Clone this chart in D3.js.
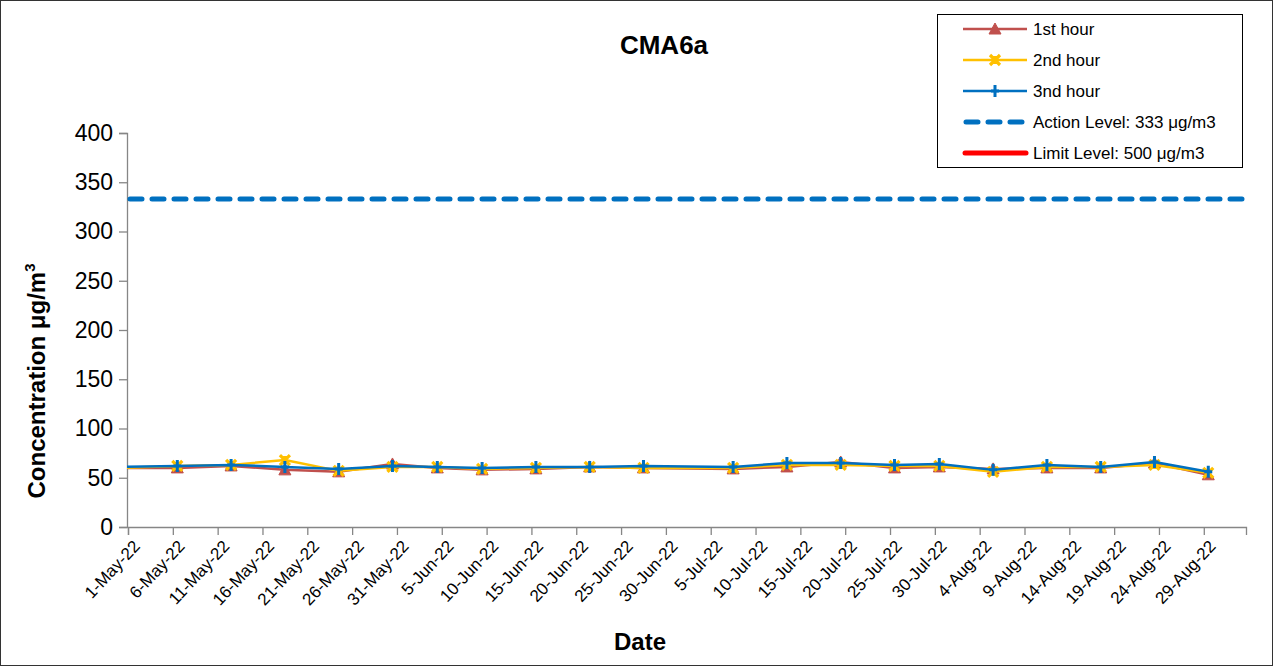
<!DOCTYPE html>
<html><head><meta charset="utf-8">
<script src="https://cdn.jsdelivr.net/npm/d3@7"></script>
<style>body{margin:0;background:#fff}svg{display:block;font-family:"Liberation Sans",Arial,sans-serif}</style>
</head><body><svg id="c" width="1273" height="666"></svg>
<script>
const dates = ["2022-04-30","2022-05-06","2022-05-12","2022-05-18","2022-05-24","2022-05-30","2022-06-04","2022-06-09","2022-06-15","2022-06-21","2022-06-27","2022-07-07","2022-07-13","2022-07-19","2022-07-25","2022-07-30","2022-08-05","2022-08-11","2022-08-17","2022-08-23","2022-08-29"];
const hour1 = [60,60,62,58,56,64,60,58,59,61,60,59,61,66,60,61,59,60,60,65,53];
const hour2 = [60,62,63,68,57,61,61,59,60,61,60,60,63,63,62,62,56,61,61,63,55];
const hour3 = [61,62,63,61,59,62,61,60,61,61,62,61,65,65,63,64,58,63,61,66,56];
const actionLevel = 333;
const limitLevel = 500;
const tickLabels = ["1-May-22","6-May-22","11-May-22","16-May-22","21-May-22","26-May-22","31-May-22","5-Jun-22","10-Jun-22","15-Jun-22","20-Jun-22","25-Jun-22","30-Jun-22","5-Jul-22","10-Jul-22","15-Jul-22","20-Jul-22","25-Jul-22","30-Jul-22","4-Aug-22","9-Aug-22","14-Aug-22","19-Aug-22","24-Aug-22","29-Aug-22"];
const yTicks = [0,50,100,150,200,250,300,350,400];
const seriesNames = ["1st hour","2nd hour","3nd hour","Action Level: 333 μg/m3","Limit Level: 500 μg/m3"];

const parse = d3.timeParse("%Y-%m-%d");
const parseTick = d3.timeParse("%d-%b-%y");
const svg = d3.select("#c");
svg.append("rect").attr("x",0.5).attr("y",0.5).attr("width",1272).attr("height",665).attr("fill","#fff").attr("stroke","#333");

const L = 127, R = 1246, T = 133, B = 527;
const x = d3.scaleTime().domain([new Date(2022,4,1), new Date(2022,8,2,17)]).range([L+1, R]);
const y = d3.scaleLinear().domain([0,400]).range([B, T]);

svg.append("defs").append("clipPath").attr("id","clip").append("rect").attr("x",L).attr("y",T-10).attr("width",R-L).attr("height",B-T+10);

// axes
const gy = svg.append("g").attr("transform",`translate(${L},0)`)
  .call(d3.axisLeft(y).tickValues(yTicks).tickSize(8).tickPadding(6));
gy.select(".domain").attr("stroke","#868686").attr("stroke-width",1.3);
gy.selectAll(".tick line").attr("stroke","#868686").attr("stroke-width",1.3);
gy.selectAll(".tick text").attr("font-size",23).attr("fill","#000").attr("font-family","Liberation Sans, Arial");

const tickDates = tickLabels.map(t => parseTick(t));
const gx = svg.append("g").attr("transform",`translate(0,${B})`)
  .call(d3.axisBottom(x).tickValues(tickDates).tickSize(8).tickFormat(""));
gx.select(".domain").attr("stroke","#868686").attr("stroke-width",1.3);
gx.selectAll(".tick line").attr("stroke","#868686").attr("stroke-width",1.3);
gx.selectAll(".tick").append("text")
  .attr("transform","translate(8,16) rotate(-47)")
  .attr("text-anchor","end").attr("dy","0.35em")
  .attr("font-size",17).attr("fill","#000").attr("font-family","Liberation Sans, Arial")
  .text((d,i) => tickLabels[i]);

// titles
svg.append("text").attr("x",664).attr("y",54).attr("text-anchor","middle").attr("font-weight","bold").attr("font-size",26).text("CMA6a");
svg.append("text").attr("x",640).attr("y",650).attr("text-anchor","middle").attr("font-weight","bold").attr("font-size",24).text("Date");
const yt = svg.append("text").attr("transform","translate(45,381) rotate(-90)").attr("text-anchor","middle").attr("font-weight","bold").attr("font-size",24);
yt.append("tspan").text("Concentration μg/m");
yt.append("tspan").attr("font-size",15).attr("dy",-10).text("3");

// data
const center = d => d3.timeHour.offset(parse(d), 12);
const plot = svg.append("g").attr("clip-path","url(#clip)");
const allDates = dates.map(center);
plot.append("line").attr("x1",L).attr("x2",R).attr("y1",y(limitLevel)).attr("y2",y(limitLevel)).attr("stroke","#FF0000").attr("stroke-width",4);
plot.append("line").attr("x1",L+3).attr("x2",R-3).attr("y1",y(actionLevel)).attr("y2",y(actionLevel))
  .attr("stroke","#0070C0").attr("stroke-width",5).attr("stroke-dasharray","12,10").attr("stroke-linecap","round");

const series = [
  {vals:hour1, color:"#C0504D", marker:"tri"},
  {vals:hour2, color:"#FFC000", marker:"x"},
  {vals:hour3, color:"#0070C0", marker:"plus"}
];
const line = d3.line().x(d=>x(d[0])).y(d=>y(d[1]));
function drawMarker(g, type, color){
  if(type==="tri"){
    g.append("path").attr("d","M0,-6L6,5L-6,5Z").attr("fill",color).attr("stroke",color).attr("stroke-width",1);
  } else if(type==="x"){
    g.append("path").attr("d","M-5,-5L5,5M5,-5L-5,5M0,-4L0,4").attr("stroke",color).attr("stroke-width",3.2).attr("fill","none");
  } else {
    g.append("path").attr("d","M0,-6L0,6M-4,0L4,0").attr("stroke",color).attr("stroke-width",3).attr("fill","none");
  }
}
series.forEach(s => {
  const pts = allDates.map((d,i)=>[d, s.vals[i]]);
  plot.append("path").datum(pts).attr("d",line).attr("fill","none").attr("stroke",s.color).attr("stroke-width",2.5).attr("stroke-linejoin","round");
  pts.forEach(p => {
    if (p[0] < x.domain()[0]) return;
    const g = plot.append("g").attr("transform",`translate(${x(p[0])},${y(p[1])})`);
    drawMarker(g, s.marker, s.color);
  });
});

// legend
const lg = svg.append("g");
lg.append("rect").attr("x",937.5).attr("y",14.5).attr("width",305).attr("height",153).attr("fill","#fff").attr("stroke","#000").attr("stroke-width",1);
const ly = [29,60,91,122,153];
seriesNames.forEach((n,i)=>{
  const yy = ly[i];
  const g = lg.append("g");
  if(i<3){
    g.append("line").attr("x1",963).attr("x2",1027).attr("y1",yy).attr("y2",yy).attr("stroke",series[i].color).attr("stroke-width",2.5);
    const m = g.append("g").attr("transform",`translate(995,${yy})`);
    drawMarker(m, series[i].marker, series[i].color);
  } else if(i===3){
    g.append("line").attr("x1",966).attr("x2",1024).attr("y1",yy).attr("y2",yy).attr("stroke","#0070C0").attr("stroke-width",5).attr("stroke-dasharray","12,10").attr("stroke-linecap","round");
  } else {
    g.append("line").attr("x1",965).attr("x2",1026).attr("y1",yy).attr("y2",yy).attr("stroke","#FF0000").attr("stroke-width",5).attr("stroke-linecap","round");
  }
  g.append("text").attr("x",1033).attr("y",yy).attr("dy","0.35em").attr("font-size",17).text(n);
});
</script></body></html>
